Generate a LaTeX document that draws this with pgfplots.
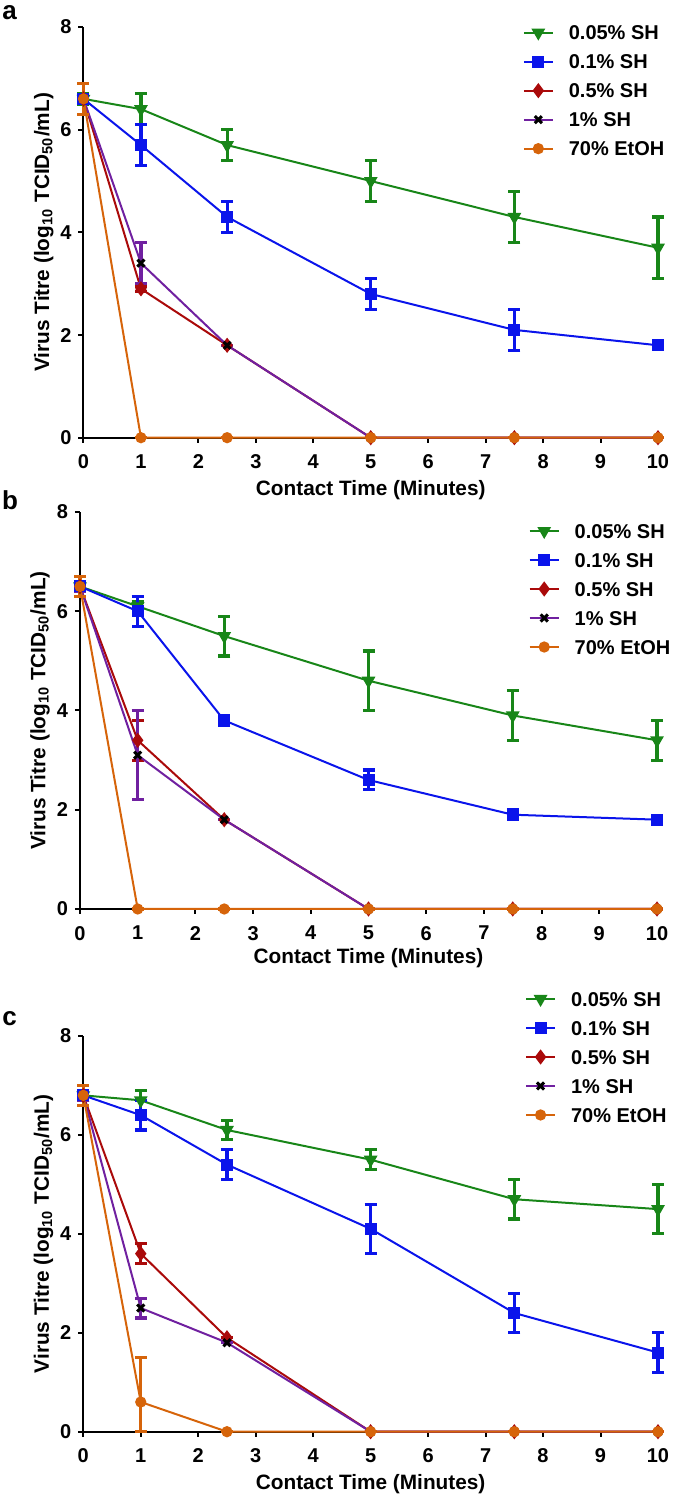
\documentclass[border=0pt]{standalone}
\usepackage{fontspec}
\setmainfont{Liberation Sans}
\usepackage{pgfplots}
\pgfplotsset{compat=1.18}
\usepackage{pgfplotstable}

\definecolor{cGreen}{RGB}{24,134,24}
\definecolor{cBlue}{RGB}{10,20,235}
\definecolor{cRed}{RGB}{170,10,10}
\definecolor{cPurple}{RGB}{112,32,160}
\definecolor{cOrange}{RGB}{214,100,10}

% ---- panel a ----
\pgfplotstableread{
x   y   ep  em
0   6.6 0.1 0.1
1   6.4 0.3 0.3
2.5 5.7 0.3 0.3
5   5.0 0.4 0.4
7.5 4.3 0.5 0.5
10  3.7 0.6 0.6
}\aGreen
\pgfplotstableread{
x   y   ep   em
0   6.6 0.05 0.05
1   5.7 0.4  0.4
2.5 4.3 0.3  0.3
5   2.8 0.3  0.3
7.5 2.1 0.4  0.4
10  1.8 0    0
}\aBlue
\pgfplotstableread{
x   y   ep   em
0   6.6 0.05 0.05
1   2.9 0.05 0.05
2.5 1.8 0    0
5   0   0    0
7.5 0   0    0
10  0   0    0
}\aRed
\pgfplotstableread{
x   y   ep   em
0   6.6 0.05 0.05
1   3.4 0.4  0.4
2.5 1.8 0    0
5   0   0    0
7.5 0   0    0
10  0   0    0
}\aPurple
\pgfplotstableread{
x   y   ep  em
0   6.6 0.3 0.3
1   0   0   0
2.5 0   0   0
5   0   0   0
7.5 0   0   0
10  0   0   0
}\aOrange

% ---- panel b ----
\pgfplotstableread{
x   y   ep  em
0   6.5 0.1 0.1
1   6.1 0.1 0.1
2.5 5.5 0.4 0.4
5   4.6 0.6 0.6
7.5 3.9 0.5 0.5
10  3.4 0.4 0.4
}\bGreen
\pgfplotstableread{
x   y   ep  em
0   6.5 0.1 0.1
1   6.0 0.3 0.3
2.5 3.8 0.1 0.1
5   2.6 0.2 0.2
7.5 1.9 0.1 0.1
10  1.8 0   0
}\bBlue
\pgfplotstableread{
x   y   ep  em
0   6.5 0.1 0.1
1   3.4 0.4 0.4
2.5 1.8 0   0
5   0   0   0
7.5 0   0   0
10  0   0   0
}\bRed
\pgfplotstableread{
x   y   ep  em
0   6.5 0.1 0.1
1   3.1 0.9 0.9
2.5 1.8 0   0
5   0   0   0
7.5 0   0   0
10  0   0   0
}\bPurple
\pgfplotstableread{
x   y   ep  em
0   6.5 0.2 0.2
1   0   0   0
2.5 0   0   0
5   0   0   0
7.5 0   0   0
10  0   0   0
}\bOrange

% ---- panel c ----
\pgfplotstableread{
x   y   ep  em
0   6.8 0.1 0.1
1   6.7 0.2 0.2
2.5 6.1 0.2 0.2
5   5.5 0.2 0.2
7.5 4.7 0.4 0.4
10  4.5 0.5 0.5
}\cGreenT
\pgfplotstableread{
x   y   ep  em
0   6.8 0.1 0.1
1   6.4 0.3 0.3
2.5 5.4 0.3 0.3
5   4.1 0.5 0.5
7.5 2.4 0.4 0.4
10  1.6 0.4 0.4
}\cBlueT
\pgfplotstableread{
x   y   ep  em
0   6.8 0.1 0.1
1   3.6 0.2 0.2
2.5 1.9 0   0
5   0   0   0
7.5 0   0   0
10  0   0   0
}\cRedT
\pgfplotstableread{
x   y   ep  em
0   6.8 0.1 0.1
1   2.5 0.2 0.2
2.5 1.8 0   0
5   0   0   0
7.5 0   0   0
10  0   0   0
}\cPurpleT
\pgfplotstableread{
x   y   ep  em
0   6.8 0.2 0.2
1   0.6 0.9 0.6
2.5 0   0   0
5   0   0   0
7.5 0   0   0
10  0   0   0
}\cOrangeT

\pgfplotsset{
  panel/.style={
    scale only axis, clip=false,
    xmin=0, xmax=10, ymin=0, ymax=8,
    axis lines=left, axis line style={-, line width=1pt, black},
    xtick={0,...,10}, ytick={0,2,4,6,8},
    tick align=outside, major tick length=2.5pt,
    tick style={line width=1pt, black},
    ticklabel style={font=\bfseries\fontsize{10}{11}\selectfont},
    xticklabel style={yshift=-2.5pt},
    /pgf/number format/assume math mode=true,
    label style={font=\bfseries\fontsize{10.4}{12}\selectfont},
    xlabel={Contact Time (Minutes)},
    ylabel={Virus Titre (log\textsubscript{10} TCID\textsubscript{50}/mL)},
    ylabel style={at={(axis description cs:-0.0600,0.5)}, anchor=base},
    xlabel style={at={(axis description cs:0.5,-0.14)}, anchor=base},
    legend cell align=left,
    legend style={draw=none, fill=none, inner sep=0pt, row sep=7.3pt,
      font=\bfseries\fontsize{10}{12}\selectfont,
      nodes={inner sep=0pt, text height=7.2pt, text depth=0pt},
      /tikz/every odd column/.append style={column sep=7.5pt}},
    legend image code/.code={\draw[mark repeat=2, mark phase=2, ##1]
      plot coordinates {(0pt,0pt) (7.25pt,0pt) (14.5pt,0pt)};},
    error bars/error bar style={line width=1.6pt},
    error bars/error mark options={rotate=90, mark size=3pt, line width=1.6pt},
  },
  sGreen/.style={color=cGreen, line width=1pt, mark=triangle*, mark size=3pt,
    mark options={rotate=180, solid}},
  sBlue/.style={color=cBlue, line width=1pt, mark=square*, mark size=2.5pt},
  sRed/.style={color=cRed, line width=1pt, mark=diamond*, mark size=3pt},
  sPurple/.style={color=cPurple, line width=1pt, mark=x, mark size=2.5pt,
    mark options={black, line width=1.5pt}},
  sOrange/.style={color=cOrange, line width=1pt, mark=*, mark size=2.3pt},
  err/.style={error bars/.cd, y dir=both, y explicit},
}

\newcommand{\series}[2]{%
  \addplot[#1, err] table[x=x, y=y, y error plus=ep, y error minus=em] {#2};}

\begin{document}
\begin{tikzpicture}
\path[use as bounding box] (0pt,0pt) rectangle (337.5pt,748pt);

\node[font=\bfseries\fontsize{13}{15}\selectfont] at (4.75pt,741.75pt) {a};
\node[font=\bfseries\fontsize{13}{15}\selectfont] at (5pt,497.75pt) {b};
\node[font=\bfseries\fontsize{13}{15}\selectfont] at (4.75pt,238.5pt) {c};

% panel a
\begin{axis}[panel, at={(41.75pt,529.15pt)}, anchor=south west,
  width=287.25pt, height=205.35pt,
  legend style={at={(rel axis cs:0.764,0.845)}, anchor=west}]
\series{sGreen}{\aGreen}
\series{sBlue}{\aBlue}
\series{sRed}{\aRed}
\series{sPurple}{\aPurple}
\series{sOrange}{\aOrange}
\legend{0.05\% SH, 0.1\% SH, 0.5\% SH, 1\% SH, 70\% EtOH}
\end{axis}

% panel b
\begin{axis}[panel, at={(40pt,293.5pt)}, anchor=south west,
  width=288.5pt, height=198.5pt,
  xlabel style={at={(axis description cs:0.5,-0.137)}},
  legend style={at={(rel axis cs:0.777,0.806)}, anchor=west}]
\series{sGreen}{\bGreen}
\series{sBlue}{\bBlue}
\series{sRed}{\bRed}
\series{sPurple}{\bPurple}
\series{sOrange}{\bOrange}
\legend{0.05\% SH, 0.1\% SH, 0.5\% SH, 1\% SH, 70\% EtOH}
\end{axis}

% panel c
\begin{axis}[panel, at={(41.65pt,32.15pt)}, anchor=south west,
  width=287.35pt, height=197.85pt,
  xlabel style={at={(axis description cs:0.5,-0.147)}},
  legend style={at={(rel axis cs:0.768,0.947)}, anchor=west}]
\series{sGreen}{\cGreenT}
\series{sBlue}{\cBlueT}
\series{sRed}{\cRedT}
\series{sPurple}{\cPurpleT}
\series{sOrange}{\cOrangeT}
\legend{0.05\% SH, 0.1\% SH, 0.5\% SH, 1\% SH, 70\% EtOH}
\end{axis}
\end{tikzpicture}
\end{document}
